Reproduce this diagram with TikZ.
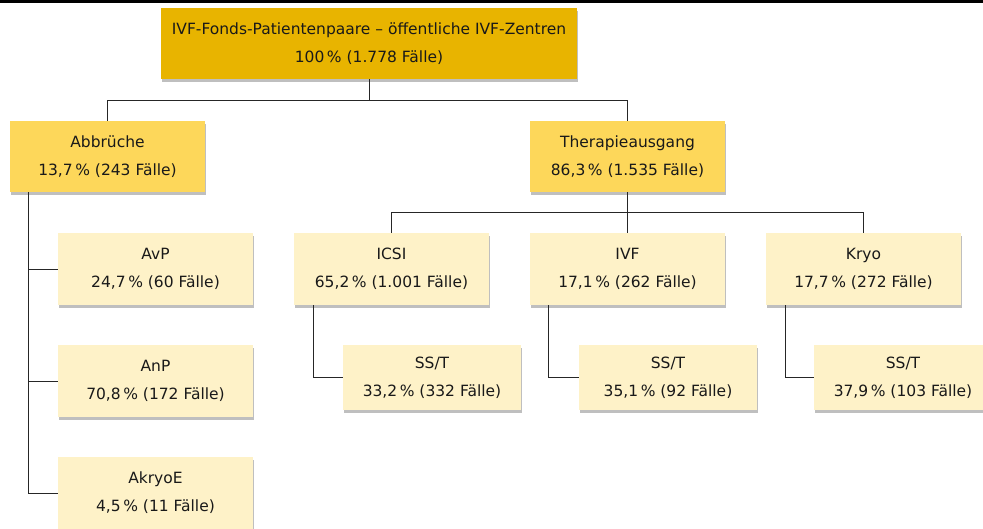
\documentclass[tikz,border=0pt]{standalone}
\usepackage{fontspec}
\setmainfont{DejaVu Sans}
\usepackage{xcolor}
\usepackage{tikz}
\usetikzlibrary{shadows}

\definecolor{rootgold}{HTML}{E8B400}
\definecolor{midgold}{HTML}{FDD75A}
\definecolor{lightgold}{HTML}{FEF2C8}

\begin{document}
\begin{tikzpicture}[x=1pt, y=-1pt,
  box/.style={inner sep=0pt, align=center, text=black!90,
    font=\fontsize{15.5}{28}\selectfont,
    drop shadow={shadow xshift=1pt, shadow yshift=-3pt, fill=black, opacity=0.25}},
  rootbox/.style={box, fill=rootgold, minimum width=416pt, minimum height=71pt},
  midbox/.style={box, fill=midgold, minimum width=195pt, minimum height=71pt},
  leafbox/.style={box, fill=lightgold, minimum width=195pt, minimum height=72pt},
  ssbox/.style={box, fill=lightgold, minimum width=178pt, minimum height=65pt},
  link/.style={draw=black!85, line width=0.8pt}]

\useasboundingbox (0,0) rectangle (983,528);
\fill[black] (0,0) rectangle (983,3);

% top
\node[rootbox] (root) at (369,43.5) {IVF-Fonds-Patientenpaare -- öffentliche IVF-Zentren\\100\,\% (1.778 Fälle)};

\node[midbox] (abbr) at (107.5,156.5) {Abbrüche\\13,7\,\% (243 Fälle)};
\node[midbox] (thera) at (627.5,156.5) {Therapieausgang\\86,3\,\% (1.535 Fälle)};

\draw[link] (root.south) -- ++(0,21) -| (abbr.north);
\draw[link] (root.south) -- ++(0,21) -| (thera.north);

% Abbrueche
\node[leafbox] (avp) at (155.5,269) {AvP\\24,7\,\% (60 Fälle)};
\node[leafbox] (anp) at (155.5,381) {AnP\\70,8\,\% (172 Fälle)};
\node[leafbox] (akryo) at (155.5,493) {AkryoE\\4,5\,\% (11 Fälle)};

\coordinate (abbrout) at ([xshift=19pt]abbr.south west);
\draw[link] (abbrout) |- (akryo.west);
\draw[link] (abbrout) |- (anp.west);
\draw[link] (abbrout) |- (avp.west);

% Therapieausgang
\node[leafbox] (icsi) at (391.5,269) {ICSI\\65,2\,\% (1.001 Fälle)};
\node[leafbox] (ivf) at (627.5,269) {IVF\\17,1\,\% (262 Fälle)};
\node[leafbox] (kryo) at (863.5,269) {Kryo\\17,7\,\% (272 Fälle)};

\draw[link] (thera.south) -- ++(0,20) -| (icsi.north);
\draw[link] (thera.south) -- ++(0,20) -| (kryo.north);
\draw[link] (thera.south) -- (ivf.north);

\node[ssbox] (ssicsi) at (432,377.5) {SS/T\\33,2\,\% (332 Fälle)};
\node[ssbox] (ssivf) at (668,377.5) {SS/T\\35,1\,\% (92 Fälle)};
\node[ssbox] (sskryo) at (903,377.5) {SS/T\\37,9\,\% (103 Fälle)};

\draw[link] ([xshift=20pt]icsi.south west) |- (ssicsi.west);
\draw[link] ([xshift=19pt]ivf.south west) |- (ssivf.west);
\draw[link] ([xshift=20pt]kryo.south west) |- (sskryo.west);

\end{tikzpicture}
\end{document}
